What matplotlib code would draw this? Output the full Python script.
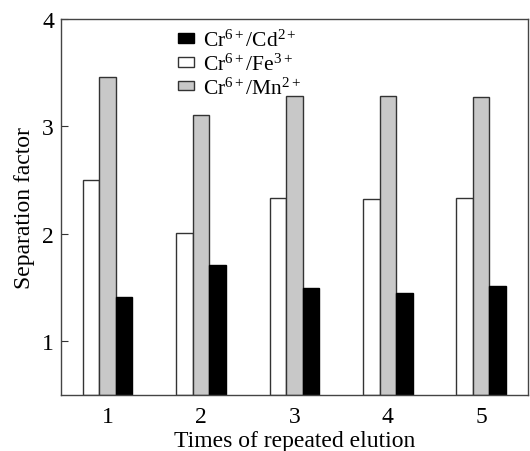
import numpy as np
import matplotlib
matplotlib.use("Agg")
import matplotlib.pyplot as plt

plt.rcParams["font.family"] = "Liberation Serif"
plt.rcParams["mathtext.fontset"] = "custom"
plt.rcParams["mathtext.rm"] = "Liberation Serif"
plt.rcParams["mathtext.it"] = "Liberation Serif"

times  = [1, 2, 3, 4, 5]
cr_fe  = [2.50, 2.01, 2.33, 2.32, 2.33]
cr_mn  = [3.46, 3.11, 3.28, 3.28, 3.27]
cr_cd  = [1.41, 1.71, 1.50, 1.45, 1.51]

x = np.array(times, dtype=float)
w = 0.177
edge = "#333333"

fig = plt.figure(figsize=(5.30, 4.52), dpi=100)
ax = fig.add_axes([0.115, 0.124, 0.881, 0.832])

base = 0.5
b_fe = ax.bar(x - w, np.array(cr_fe) - base, w, bottom=base, color="white",
              edgecolor=edge, lw=1.0)
b_mn = ax.bar(x, np.array(cr_mn) - base, w, bottom=base, color="#c8c8c8",
              edgecolor=edge, lw=1.0)
b_cd = ax.bar(x + w, np.array(cr_cd) - base, w, bottom=base, color="black",
              edgecolor="black", lw=1.0)

ax.set_xlim(0.5, 5.5)
ax.set_ylim(0.5, 4)
ax.set_xticks(times)
ax.set_yticks([1, 2, 3, 4])
ax.tick_params(axis="x", length=0, labelsize=17, pad=8)
ax.tick_params(axis="y", direction="in", length=5, labelsize=17, color=edge, pad=5)
ax.set_xlabel("Times of repeated elution", fontsize=17, labelpad=2)
ax.set_ylabel("Separation factor", fontsize=17, labelpad=5)
for s in ax.spines.values():
    s.set_color("#444444")
    s.set_linewidth(1.0)

leg = ax.legend([b_cd, b_fe, b_mn],
                [r"Cr$^{6+}$/Cd$^{2+}$", r"Cr$^{6+}$/Fe$^{3+}$", r"Cr$^{6+}$/Mn$^{2+}$"],
                loc="upper left", bbox_to_anchor=(0.228, 1.0), frameon=False,
                fontsize=15.5, handlelength=0.75, handleheight=0.3,
                handletextpad=0.4, labelspacing=0.12, borderaxespad=0.1)

fig.savefig("out.png", dpi=100)
